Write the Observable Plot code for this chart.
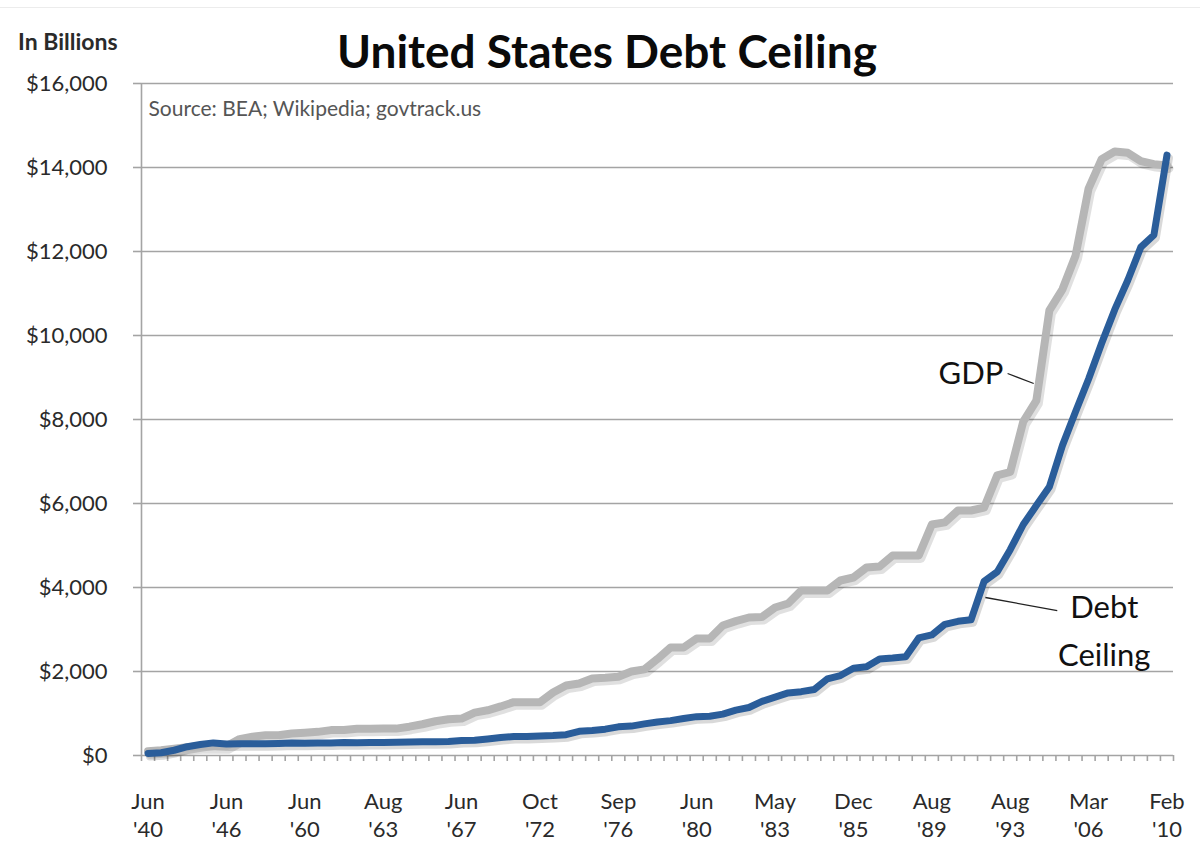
<!DOCTYPE html>
<html>
<head>
<meta charset="utf-8">
<script src="https://cdn.jsdelivr.net/npm/d3@7"></script>
<script src="https://cdn.jsdelivr.net/npm/@observablehq/plot@0.6"></script>
<style>
  html, body { margin: 0; padding: 0; background: #fff; }
  body { width: 1200px; height: 842px; position: relative; overflow: hidden; font-family: Lato, "Open Sans", sans-serif; }
  #topline { position: absolute; left: 0; top: 7px; width: 1200px; height: 1px; background: #ececec; }
  #title { position: absolute; left: 0; width: 1214px; top: 23px; text-align: center; font-weight: bold; font-size: 46px; line-height: 1.2; color: #0a0a0a; z-index: 2; }
  #unit { position: absolute; left: 18px; top: 28px; font-weight: bold; font-size: 23px; line-height: 1.2; color: #2a2a2a; z-index: 2; }
  #chart { position: absolute; left: 0; top: 0; }
</style>
</head>
<body>
<div id="topline"></div>
<div id="title">United States Debt Ceiling</div>
<div id="unit">In Billions</div>
<div id="chart"></div>
<script>
// Dates of each debt-ceiling change (category axis)
const categories = [
  "Jun '40","Feb '41","Mar '42","Apr '43","Jun '44","Apr '45","Jun '46","Aug '54","Jul '56","Feb '58",
  "Sep '58","Jun '59","Jun '60","Jun '61","Mar '62","Jul '62","Mar '63","May '63","Aug '63","Nov '63",
  "Jun '64","Jun '65","Jun '66","Mar '67","Jun '67","Apr '69","Jun '70","Mar '71","Mar '72","Jul '72",
  "Oct '72","Dec '73","Jun '74","Feb '75","Nov '75","Mar '76","Sep '76","Apr '77","Oct '77","Aug '78",
  "Apr '79","Sep '79","Jun '80","Dec '80","Feb '81","Sep '81","Jun '82","Sep '82","May '83","Nov '83",
  "May '84","Jul '84","Oct '84","Nov '85","Dec '85","Aug '86","Oct '86","Jul '87","Aug '87","Sep '87",
  "Aug '89","Nov '89","Aug '90","Oct '90","Nov '90","Apr '93","Aug '93","Mar '96","Aug '97","Jun '02",
  "May '03","Nov '04","Mar '06","Sep '07","Jul '08","Oct '08","Feb '09","Dec '09","Feb '10"
];
// Debt ceiling, $ billions
const debtCeiling = [
  49, 65, 125, 210, 260, 300, 275, 281, 278, 280,
  288, 295, 293, 298, 300, 308, 305, 307, 309, 315,
  324, 328, 330, 336, 358, 365, 395, 430, 450, 450,
  465, 476, 495, 577, 595, 627, 682, 700, 752, 798,
  830, 879, 925, 935, 985, 1079, 1143, 1290, 1389, 1490,
  1520, 1573, 1824, 1904, 2079, 2111, 2300, 2320, 2352, 2800,
  2870, 3123, 3195, 3230, 4145, 4370, 4900, 5500, 5950, 6400,
  7384, 8184, 8965, 9815, 10615, 11315, 12104, 12394, 14294
];
// GDP, $ billions
const gdp = [
  101, 127, 162, 199, 220, 223, 222, 390, 449, 482,
  482, 522, 543, 563, 605, 605, 638, 638, 640, 640,
  686, 744, 815, 862, 880, 1020, 1076, 1168, 1270, 1270,
  1270, 1500, 1667, 1714, 1833, 1850, 1877, 2000, 2050, 2300,
  2571, 2571, 2786, 2786, 3095, 3200, 3286, 3300, 3524, 3619,
  3929, 3929, 3929, 4167, 4238, 4476, 4500, 4762, 4762, 4762,
  5500, 5550, 5833, 5833, 5900, 6667, 6750, 7950, 8450, 10600,
  11100, 11900, 13500, 14200, 14380, 14350, 14150, 14080, 14050
];
const yTicks = [0, 2000, 4000, 6000, 8000, 10000, 12000, 14000, 16000];
const labelStep = 6;
const sourceNote = "Source: BEA; Wikipedia; govtrack.us";
const annotations = [
  {text: "GDP", i: 63, v: 9200},
  {text: "Debt\nCeiling", i: 73.2, v: 3060}
];
const leaders = [
  {i1: 65.8, v1: 9095, i2: 67.8, v2: 8857},
  {i1: 64.1, v1: 3762, i2: 69.6, v2: 3452}
];

const rows = categories.map((c, i) => ({i, c, debt: debtCeiling[i], gdp: gdp[i]}));
const labelIdx = categories.map((_, i) => i).filter(i => i % labelStep === 0);
const boundaries = d3.range(categories.length + 1).map(k => k - 0.5);

const gridColor = "#a4a4a4";
const textColor = "#2a2a2a";

const chart = Plot.plot({
  width: 1200,
  height: 842,
  marginLeft: 141,
  marginRight: 27,
  marginTop: 83,
  marginBottom: 87,
  style: {fontFamily: "Lato, 'Open Sans', sans-serif", background: "transparent", overflow: "visible"},
  x: {type: "linear", domain: [-0.5, categories.length - 0.5], axis: null},
  y: {domain: [0, 16000], axis: null},
  marks: [
    Plot.ruleY(yTicks, {stroke: gridColor, strokeWidth: 1.6}),
    Plot.axisY({ticks: yTicks, tickFormat: d => "$" + d3.format(",")(d), tickSize: 8, tickPadding: 26,
      fontSize: 22, stroke: gridColor, strokeWidth: 1.6, fill: textColor, label: null}),
    Plot.ruleX([-0.5], {stroke: gridColor, strokeWidth: 1.6}),
    Plot.axisX({ticks: boundaries, tickFormat: () => "", tickSize: 6, stroke: gridColor, strokeWidth: 1.6, label: null}),
    Plot.text(labelIdx, {x: d => d, frameAnchor: "bottom", text: d => categories[d].replace(" ", "\n"),
      lineAnchor: "top", dy: 33, fontSize: 22, lineHeight: 1.28, fill: textColor}),
    Plot.text([sourceNote], {frameAnchor: "top-left", text: d => d, dx: 7, dy: 18, fontSize: 21, fill: "#555", textAnchor: "start"}),
    // soft shadows under the lines
    Plot.line(rows, {x: "i", y: "gdp", stroke: "#000", strokeOpacity: 0.12, strokeWidth: 9, dx: 2, dy: 3}),
    Plot.line(rows, {x: "i", y: "debt", stroke: "#000", strokeOpacity: 0.15, strokeWidth: 8, dx: 2, dy: 3}),
    Plot.line(rows, {x: "i", y: "gdp", stroke: "#b6b6b6", strokeWidth: 8, strokeLinejoin: "round", strokeLinecap: "round"}),
    Plot.line(rows, {x: "i", y: "debt", stroke: "#2a5d9a", strokeWidth: 7, strokeLinejoin: "round", strokeLinecap: "round"}),
    Plot.link(leaders, {x1: "i1", y1: "v1", x2: "i2", y2: "v2", stroke: "#222", strokeWidth: 1.3}),
    Plot.text(annotations, {x: "i", y: "v", text: "text", fontSize: 31, lineHeight: 1.55, fill: "#111", textAnchor: "middle"})
  ]
});
document.getElementById("chart").appendChild(chart);
</script>
</body>
</html>
